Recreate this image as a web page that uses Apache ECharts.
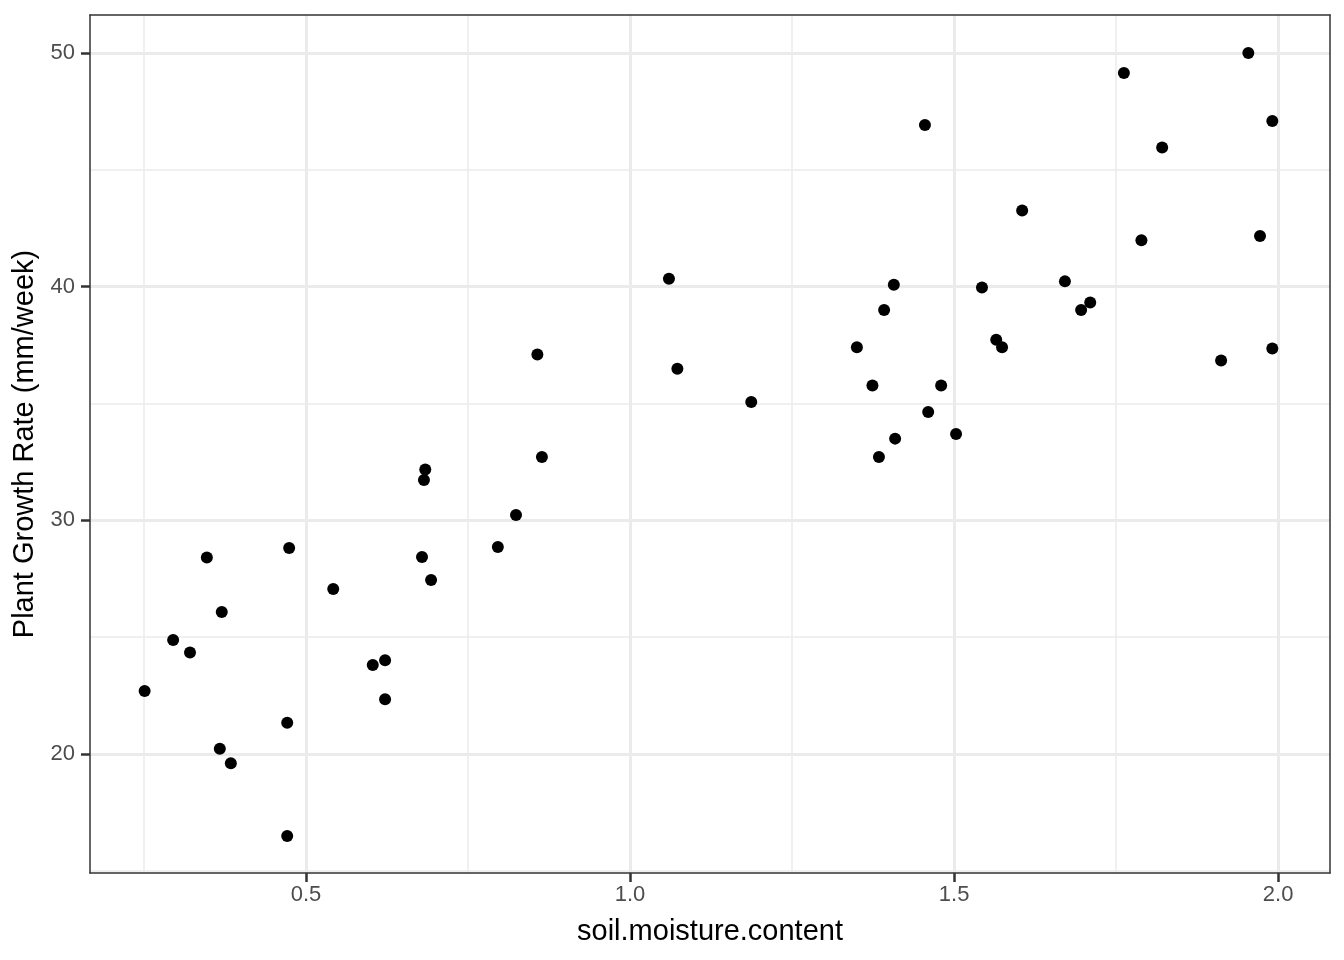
<!DOCTYPE html>
<html>
<head>
<meta charset="utf-8">
<script src="https://cdn.jsdelivr.net/npm/echarts@6/dist/echarts.min.js"></script>
<style>
html,body{margin:0;padding:0;background:#fff;}
#chart{width:1344px;height:960px;}
</style>
</head>
<body>
<div id="chart"></div>
<script>
const soilMoisture = [0.251,0.295,0.321,0.347,0.370,0.367,0.384,0.474,0.471,0.471,0.542,0.603,0.622,0.622,0.679,0.684,0.682,0.693,0.796,0.824,0.857,0.864,1.060,1.073,1.187,1.350,1.374,1.384,1.392,1.407,1.409,1.455,1.460,1.480,1.503,1.543,1.565,1.574,1.605,1.671,1.696,1.710,1.762,1.789,1.821,1.912,1.954,1.972,1.991,1.991];
const growthRate = [22.70,24.88,24.35,28.41,26.08,20.23,19.61,28.82,21.34,16.49,27.06,23.81,24.02,22.35,28.43,32.18,31.73,27.45,28.86,30.23,37.10,32.71,40.34,36.49,35.07,37.41,35.77,32.71,39.00,40.09,33.50,46.92,34.64,35.77,33.70,39.97,37.73,37.41,43.26,40.23,39.00,39.33,49.15,41.99,45.96,36.84,50.00,42.17,47.09,37.36];
const xTickValues = [0.5, 1.0, 1.5, 2.0];
const xMinorValues = [0.25, 0.75, 1.25, 1.75];
const yTickValues = [20, 30, 40, 50];
const yMinorValues = [15, 25, 35, 45];
const xTitle = 'soil.moisture.content';
const yTitle = 'Plant Growth Rate (mm/week)';

const points = soilMoisture.map((x, i) => [x, growthRate[i]]);
const gridColor = '#ebebeb';
const lines = [];
xTickValues.forEach(v => lines.push({xAxis: v, lineStyle: {width: 3, color: gridColor, type: 'solid'}}));
xMinorValues.forEach(v => lines.push({xAxis: v, lineStyle: {width: 1.5, color: gridColor, type: 'solid'}}));
yTickValues.forEach(v => lines.push({yAxis: v, lineStyle: {width: 3, color: gridColor, type: 'solid'}}));
yMinorValues.forEach(v => lines.push({yAxis: v, lineStyle: {width: 1.5, color: gridColor, type: 'solid'}}));

const chart = echarts.init(document.getElementById('chart'), null, {renderer: 'canvas'});
const font = 'Liberation Sans, Arial, Helvetica, sans-serif';
const X_MIN = 0.1667, X_MAX = 2.080, Y_MIN = 14.91, Y_MAX = 51.63;
const tickColor = '#333333';
chart.setOption({
  animation: false,
  backgroundColor: '#ffffff',
  grid: {left: 90, right: 14, top: 15, bottom: 87, show: false},
  xAxis: [{
    type: 'value', min: X_MIN, max: X_MAX, position: 'bottom', z: 10,
    name: xTitle, nameLocation: 'middle', nameGap: 44,
    nameTextStyle: {fontFamily: font, fontSize: 29, color: '#000000'},
    axisLine: {show: true, onZero: false, lineStyle: {color: '#333333', width: 1.5}},
    axisTick: {show: true, length: 9, customValues: xTickValues, lineStyle: {color: tickColor, width: 2.5}},
    axisLabel: {customValues: xTickValues, fontFamily: font, fontSize: 22, color: '#4d4d4d', margin: 11,
      formatter: v => v.toFixed(1)},
    splitLine: {show: false}
  }, {
    type: 'value', min: X_MIN, max: X_MAX, position: 'top', z: 10,
    axisLine: {show: true, onZero: false, lineStyle: {color: '#333333', width: 1.5}},
    axisTick: {show: false}, axisLabel: {show: false}, splitLine: {show: false}
  }],
  yAxis: [{
    type: 'value', min: Y_MIN, max: Y_MAX, position: 'left', z: 10,
    name: yTitle, nameLocation: 'middle', nameGap: 50,
    nameTextStyle: {fontFamily: font, fontSize: 29, color: '#000000'},
    axisLine: {show: true, onZero: false, lineStyle: {color: '#333333', width: 1.5}},
    axisTick: {show: true, length: 9, customValues: yTickValues, lineStyle: {color: tickColor, width: 2.5}},
    axisLabel: {customValues: yTickValues, fontFamily: font, fontSize: 22, color: '#4d4d4d', margin: 15},
    splitLine: {show: false}
  }, {
    type: 'value', min: Y_MIN, max: Y_MAX, position: 'right', z: 10,
    axisLine: {show: true, onZero: false, lineStyle: {color: '#333333', width: 1.5}},
    axisTick: {show: false}, axisLabel: {show: false}, splitLine: {show: false}
  }],
  series: [
    {
      type: 'scatter', data: [], z: 1, silent: true,
      markLine: {silent: true, symbol: ['none', 'none'], label: {show: false}, animation: false,
        lineStyle: {type: 'solid'}, emphasis: {disabled: true}, data: lines}
    },
    {
      type: 'scatter', data: points, symbol: 'circle', symbolSize: 12, z: 5,
      itemStyle: {color: '#000000', opacity: 1}
    }
  ]
});
</script>
</body>
</html>
